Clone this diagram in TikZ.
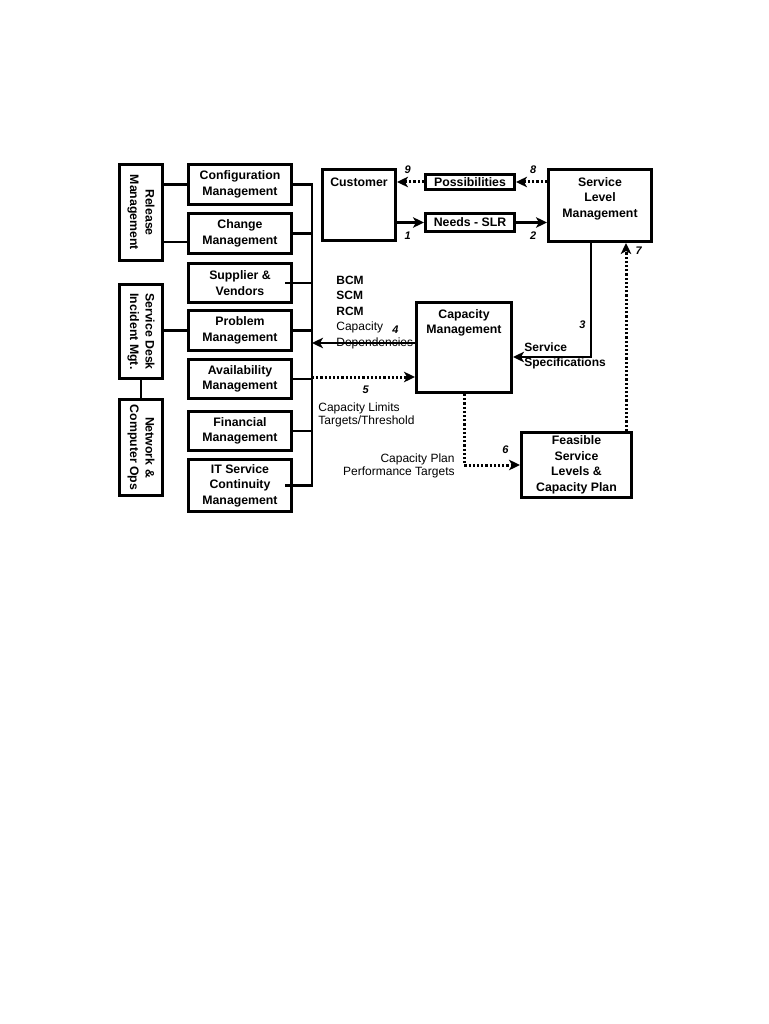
\documentclass[tikz,border=0pt]{standalone}
\usepackage{fontspec}
\setmainfont{Liberation Sans}
\usetikzlibrary{arrows.meta}

\newcommand{\boxfnt}{\bfseries\fontsize{12.3}{15.5}\selectfont}
\newcommand{\notefnt}{\fontsize{12}{12.5}\selectfont}
\newcommand{\numfnt}{\bfseries\itshape\fontsize{11}{11}\selectfont}

\begin{document}
\begin{tikzpicture}[x=1pt, y=-1pt, line width=2.8pt,
    block/.style={draw, fill=white, rectangle, align=center, font=\boxfnt, inner sep=1pt, minimum width=103.2pt},
    midbox/.style={block, minimum height=40.2pt},
    sidebox/.style={block, rotate=-90, minimum width=96.2pt, minimum height=43.2pt},
    toptext/.style={anchor=north, align=center, font=\boxfnt, inner sep=0pt},
    num/.style={font=\numfnt, inner sep=0pt},
    note/.style={font=\notefnt, align=left, inner sep=0pt},
    arr/.style={-{Stealth[length=11pt, width=10.5pt, inset=3pt]}},
    dotarr/.style={arr, line width=3pt, dash pattern=on 2.2pt off 2pt}]

    \fill [white] (0,0) rectangle (768,1024);
    \useasboundingbox (0,0) rectangle (768,1024);

    % Left column
    \node [sidebox] (rel) at (141,212.5) {Release\\Management};
    \node [sidebox, minimum width=94.2pt] (sdk) at (141,331.5) {Service Desk\\Incident Mgt.};
    \node [sidebox] (net) at (141,447.5) {Network \&\\Computer Ops};

    % Process column
    \node [midbox] (cfg) at (240,184.5) {Configuration\\Management};
    \node [midbox, below of=cfg, node distance=49pt] (chg) {Change\\Management};
    \node [midbox, below of=chg, node distance=49.5pt, minimum height=39.2pt] (sup) {Supplier \&\\Vendors};
    \node [midbox, below of=sup, node distance=47.5pt] (prb) {Problem\\Management};
    \node [midbox, below of=prb, node distance=48.5pt, minimum height=39.2pt] (avl) {Availability\\Management};
    \node [midbox, below of=avl, node distance=52pt, minimum height=39.2pt] (fin) {Financial\\Management};
    \node [midbox, below of=fin, node distance=54.5pt, minimum height=52.2pt] (itc) {IT Service\\Continuity\\Management};

    % Right part
    \node [block, minimum width=73.2pt, minimum height=71.2pt,
        label={[toptext, yshift=-8.7pt]north:Customer}] (cus) at (359,205) {};
    \node [block, minimum width=89.2pt, minimum height=18.2pt] (nds) at (470,222.5) {Needs - SLR};
    \node [block, above of=nds, node distance=40.5pt, minimum width=89.2pt, minimum height=15.2pt] (pos) {Possibilities};
    \node [block, minimum height=72.2pt,
        label={[toptext, yshift=-7.7pt]north:Service\\Level\\Management}] (slm) at (600,205.5) {};
    \node [block, minimum width=95.2pt, minimum height=90.2pt,
        label={[toptext, yshift=-6.9pt]north:Capacity\\Management}] (cap) at (464,347.5) {};
    \node [block, minimum width=110.2pt, minimum height=65.2pt] (fea) at (576.5,465) {Feasible\\Service\\Levels \&\\Capacity Plan};

    % Notes
    \node [note, anchor=north west, font=\fontsize{12}{15.5}\selectfont] (deps) at (335,274.5)
        {\textbf{BCM}\\\textbf{SCM}\\\textbf{RCM}\\Capacity\\Dependencies};
    \node [note, anchor=north west, font=\bfseries\fontsize{12}{15}\selectfont] (spec) at (523,341.5) {Service\\Specifications};
    \node [note, anchor=north west] (lim) at (317,401.7) {Capacity Limits\\Targets/Threshold};
    \node [note, anchor=north east, align=right] (plan) at (456,452.7) {Capacity Plan\\Performance Targets};

    % Side links
    \coordinate (bus) at (312,0);
    \coordinate (relchg) at ([yshift=-8.5pt]chg.west);
    \draw (rel.north |- cfg.west) -- (cfg.west);
    \draw (relchg -| rel.north) -- (relchg);
    \draw (prb.west -| sdk.north) -- (prb.west);
    \draw (sdk.east) -- (net.west);

    % Bus
    \draw (cfg.east) -| (bus |- itc.east) -- ([xshift=-8pt]itc.east);
    \draw (chg.east) -- (chg.east -| bus);
    \draw ([xshift=-8pt]sup.east) -- (sup.east -| bus);
    \draw (prb.east) -- (prb.east -| bus);
    \draw (avl.east) -- (avl.east -| bus);
    \draw (fin.east) -- (fin.east -| bus);

    % Arrows
    \draw [dotarr] (slm.west |- pos.east) -- node[num, above=7pt, pos=0.45] {8} (pos.east);
    \draw [dotarr] (pos.west) -- node[num, above=7pt, pos=0.6] {9} (pos.west -| cus.east);
    \draw [arr] (cus.east |- nds.west) -- node[num, below=8pt, pos=0.4] {1} (nds.west);
    \draw [arr] (nds.east) -- node[num, below=8pt, pos=0.55] {2} (nds.east -| slm.west);

    \coordinate (s3) at ([xshift=-9pt]slm.south);
    \coordinate (e3) at ([yshift=-9.5pt]cap.east);
    \draw [arr] (s3) |- node[num, left=4pt, pos=0.36] {3} (e3);

    \coordinate (s4) at ([yshift=4.5pt]cap.west);
    \draw [arr] (s4) -- node[num, above=8pt, pos=0.19] {4} (s4 -| bus);

    \coordinate (e5) at ([yshift=-29.5pt]cap.west);
    \draw [dotarr] (e5 -| bus) -- node[num, below=7pt, pos=0.52] {5} (e5);

    \draw [dotarr] (cap.south) |- node[num, above=10pt, pos=0.87] {6} (fea.west);

    \coordinate (s7) at ([xshift=49.5pt]fea.north);
    \draw [dotarr] (s7) -- node[num, right=8pt, pos=0.96] {7} (s7 |- slm.south);

\end{tikzpicture}
\end{document}
